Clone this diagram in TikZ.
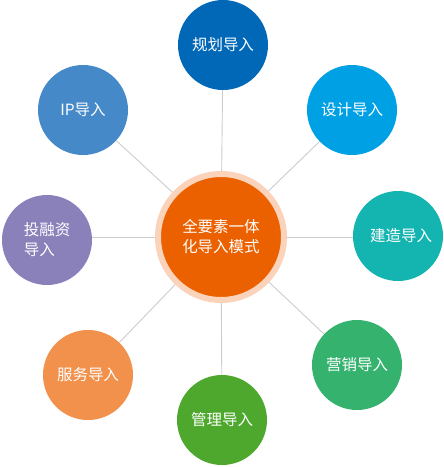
\documentclass[tikz,border=0pt]{standalone}
\usepackage{fontspec}
\setmainfont{Noto Sans CJK SC}
\usetikzlibrary{backgrounds}
\definecolor{hubfill}{HTML}{EB6100}
\definecolor{hubring}{HTML}{FAD3BA}
\definecolor{spokegray}{HTML}{CCCCCC}
\definecolor{guihuablue}{HTML}{0068B7}
\definecolor{shejiblue}{HTML}{00A0E4}
\definecolor{jianzaoteal}{HTML}{14B4B0}
\definecolor{yingxiaogreen}{HTML}{34B26E}
\definecolor{guanligreen}{HTML}{4EA82E}
\definecolor{fuwuorange}{HTML}{F1914B}
\definecolor{rongzipurple}{HTML}{8B81BA}
\definecolor{ipblue}{HTML}{4689C8}
\begin{document}
\begin{tikzpicture}[x=1pt,y=-1pt,
        leaf/.style={circle, minimum size=90pt, inner sep=0pt, text=white,
            font=\fontsize{15.5}{20}\selectfont},
        spoke/.style={draw=spokegray, line width=0.9pt}]
    \useasboundingbox (0,0) rectangle (444,467);
    \node[circle, fill=hubfill, draw=hubring, line width=6pt, minimum size=126pt,
        text=white, align=center, font=\fontsize{15.5}{20}\selectfont] (hub) at (221,237) {全要素一体\\化导入模式};
    \node[leaf, fill=guihuablue] (guihua) at (223,45) {规划导入};
    \node[leaf, fill=shejiblue] (sheji) at (352,110) {设计导入};
    \node[leaf, fill=jianzaoteal] (jianzao) at (398,236) {\hspace*{6pt}建造导入};
    \node[leaf, fill=yingxiaogreen] (yingxiao) at (357,365) {营销导入};
    \node[leaf, fill=guanligreen] (guanli) at (222,420) {管理导入};
    \node[leaf, fill=fuwuorange] (fuwu) at (88,375) {服务导入};
    \node[leaf, fill=rongzipurple, align=left] (rongzi) at (47,240) {投融资\\导入};
    \node[leaf, fill=ipblue] (ip) at (83,110) {IP导入};
    \begin{scope}[on background layer]
        \foreach \n in {guihua,sheji,yingxiao,guanli,fuwu,ip}
            \draw[spoke] (hub) -- (\n);
        \draw[spoke] (hub.east) -- (jianzao.west |- hub.east);
        \draw[spoke] (hub.west) -- (rongzi.east |- hub.west);
    \end{scope}
\end{tikzpicture}
\end{document}
